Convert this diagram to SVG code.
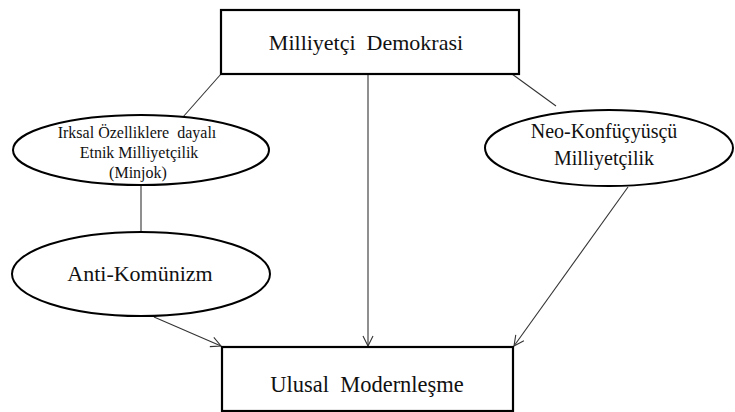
<svg xmlns="http://www.w3.org/2000/svg" width="735" height="412" viewBox="0 0 735 412">
<defs>
<style>
.box{fill:#fff;stroke:#000;stroke-width:2.2}
.ell{fill:#fff;stroke:#000;stroke-width:2}
.t{font-family:"Liberation Serif","Times New Roman",serif;fill:#111;text-anchor:middle;white-space:pre}
.c{stroke:#333;stroke-width:1.1;fill:none}
</style>
<marker id="arr" viewBox="0 0 12 12" refX="11" refY="6" markerWidth="12" markerHeight="12" markerUnits="userSpaceOnUse" orient="auto">
<path d="M1,1 L11,6 L1,11" fill="none" stroke="#333" stroke-width="1.1"/>
</marker>
</defs>
<rect width="735" height="412" fill="#fff"/>
<g id="connectors">
<line class="c" x1="221" y1="74" x2="183" y2="117"/>
<line class="c" x1="512" y1="74" x2="556" y2="106"/>
<line class="c" x1="368" y1="75" x2="368" y2="346" marker-end="url(#arr)"/>
<line class="c" x1="141" y1="185" x2="141" y2="232"/>
<line class="c" x1="154" y1="317" x2="221" y2="346" marker-end="url(#arr)"/>
<line class="c" x1="628" y1="187" x2="514" y2="346" marker-end="url(#arr)"/>
</g>
<g id="milliyetci-demokrasi">
<rect class="box" x="221" y="10" width="298" height="64"/>
<text class="t" x="366" y="50" font-size="22" xml:space="preserve">Milliyetçi  Demokrasi</text>
</g>
<g id="irksal">
<ellipse class="ell" cx="141" cy="150" rx="128" ry="35"/>
<text class="t" x="137" y="138" font-size="16" xml:space="preserve">Irksal Özelliklere  dayalı</text>
<text class="t" x="139" y="158" font-size="16">Etnik Milliyetçilik</text>
<text class="t" x="138" y="178" font-size="16">(Minjok)</text>
</g>
<g id="neo-konfucyuscu">
<ellipse class="ell" cx="609" cy="148" rx="124" ry="38"/>
<text class="t" x="604" y="138" font-size="20">Neo-Konfüçyüsçü</text>
<text class="t" x="604" y="165" font-size="20">Milliyetçilik</text>
</g>
<g id="anti-komunizm">
<ellipse class="ell" cx="141" cy="274" rx="129" ry="42"/>
<text class="t" x="140" y="281" font-size="22">Anti-Komünizm</text>
</g>
<g id="ulusal-modernlesme">
<rect class="box" x="222" y="347" width="291" height="64"/>
<text class="t" x="367" y="392" font-size="22.5" xml:space="preserve">Ulusal  Modernleşme</text>
</g>
</svg>
